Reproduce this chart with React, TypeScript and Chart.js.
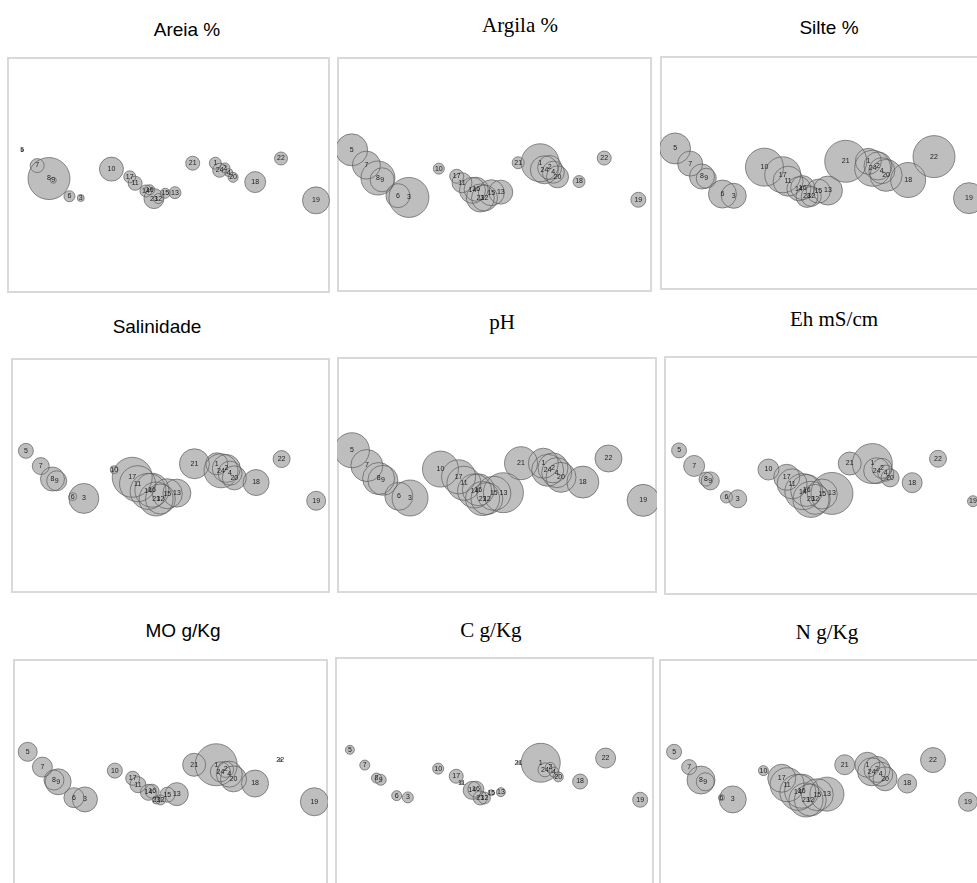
import React, { useEffect, useRef } from "react";
import { Chart, registerables } from "chart.js";

Chart.register(...registerables);

// Sites (ordination scores shared by every panel)
const sites = ["1","2","3","4","5","6","7","8","9","10","11","12","13","14","15","16","17","18","19","20","21","22","23","24"];
const siteX = [0.87, 1.05, -1.63, 1.12, -2.72, -1.84, -2.44, -2.22, -2.14, -1.06, -0.62, -0.19, 0.12, -0.42, -0.06, -0.35, -0.72, 1.61, 2.74, 1.2, 0.45, 2.09, -0.27, 0.95];
const siteY = [0.2, 0.12, -0.39, 0.04, 0.42, -0.36, 0.16, -0.06, -0.09, 0.1, -0.14, -0.4, -0.3, -0.27, -0.31, -0.25, -0.03, -0.12, -0.43, -0.04, 0.2, 0.28, -0.4, 0.08];

// Bubble sizes per variable (site 1..24)
const areiaSize = [6, 5, 3.5, 4, 1.2, 5.5, 7, 21, 3, 12, 7, 5, 6, 6, 5, 5, 6, 10.5, 13.5, 5, 7, 6.5, 10, 7];
const argilaSize = [19, 12, 20, 11, 16, 12, 14, 17, 12, 5.5, 10, 13, 12, 13, 13, 12, 7, 6, 7.5, 11, 6, 7, 14, 14];
const silteSize = [13, 14, 12.5, 13, 15.5, 14, 12.5, 12.5, 10, 19, 15, 10, 14.5, 12, 12, 12, 18, 17.5, 15.5, 16, 21, 21, 11, 18];
const salinidadeSize = [11, 14, 15, 12, 7.5, 4, 8.5, 12, 10, 4, 18, 15, 14, 18, 15, 17, 20, 13, 9.5, 12, 15, 8.5, 17, 17];
const phSize = [15, 15, 18, 15, 17.5, 14, 16, 16, 15, 18, 17, 16, 20, 17, 17, 16, 17, 16, 16, 15, 16.5, 13.5, 17, 16];
const ehSize = [20, 10, 9, 8, 7.5, 6, 10.5, 7, 9, 10.5, 15, 15, 21, 18, 15, 16, 13, 10, 5.5, 9, 11.5, 8.5, 18, 13];
const moSize = [21, 8, 12.5, 13, 9.5, 10, 10, 10, 13, 7.5, 8, 5, 11.5, 8, 7.5, 7, 7, 13.5, 14, 13, 11.5, 1.5, 4, 10];
const cSize = [19.5, 5, 5.5, 5, 4.5, 5, 5, 5, 5.5, 5.5, 1.5, 6, 4.5, 9, 3, 8, 7, 7.5, 7.5, 5, 1.5, 10, 7, 7];
const nSize = [12.5, 13, 13.5, 12, 7.5, 3, 7.5, 14, 9, 5, 17, 16, 17, 18, 16, 17, 14, 9.5, 9.5, 12, 10, 12.5, 17, 14];

const panelTitles = ["Areia %", "Argila %", "Silte %", "Salinidade", "pH", "Eh mS/cm", "MO g/Kg", "C g/Kg", "N g/Kg"];
const panelSizes = [areiaSize, argilaSize, silteSize, salinidadeSize, phSize, ehSize, moSize, cSize, nSize];

// Layout (page pixels)
const titleSerif = [false, true, false, false, true, true, false, true, true];
const boxes = [
  [7, 57, 323, 236], [337, 57, 315, 235], [660, 56, 323, 234],
  [11, 358, 319, 235], [337, 357, 320, 236], [664, 356, 323, 239],
  [13, 659, 315, 235], [335, 657, 319, 235], [659, 659, 323, 235],
];
const titlePos = [
  [187, 29], [520, 25], [829, 27],
  [157, 326], [502, 322], [834, 319],
  [183, 630], [491, 630], [827, 632],
];

const boxPlugin = {
  id: "boxBorder",
  beforeDraw(chart: any) {
    const { ctx, chartArea: a } = chart;
    ctx.save();
    ctx.strokeStyle = "#d9d9d9";
    ctx.lineWidth = 2;
    ctx.strokeRect(a.left + 1, a.top + 1, a.width - 2, a.height - 2);
    ctx.restore();
  },
};

const labelPlugin = {
  id: "siteLabels",
  afterDatasetsDraw(chart: any) {
    const { ctx } = chart;
    const meta = chart.getDatasetMeta(0);
    ctx.save();
    ctx.font = "7px 'Liberation Sans', Arial, sans-serif";
    ctx.fillStyle = "#222";
    ctx.textAlign = "center";
    ctx.textBaseline = "middle";
    meta.data.forEach((el: any, i: number) => {
      ctx.fillText(sites[i], el.x, el.y);
    });
    ctx.restore();
  },
};

function Panel({ idx }: { idx: number }) {
  const ref = useRef<HTMLCanvasElement>(null);
  const [left, top, w, h] = boxes[idx];
  useEffect(() => {
    if (!ref.current) return;
    const sizes = panelSizes[idx];
    const pts = siteX.map((x, i) => ({ x, y: siteY[i], r: sizes[i] }));
    const chart = new Chart(ref.current, {
      type: "bubble",
      data: {
        datasets: [
          // outlines (drawn on top: dataset 0 is painted last)
          { data: pts, backgroundColor: "rgba(0,0,0,0)", borderColor: "rgba(90,90,90,0.75)", borderWidth: 0.9, clip: false } as any,
          // fills
          { data: pts, backgroundColor: "#bebebe", borderWidth: 0, clip: false } as any,
        ],
      },
      options: {
        responsive: false,
        animation: false,
        events: [],
        layout: { padding: 0, autoPadding: false },
        plugins: { legend: { display: false }, tooltip: { enabled: false } },
        scales: {
          x: { type: "linear", min: -3, max: 3, display: false },
          y: { type: "linear", min: -2, max: 2, display: false },
        },
      } as any,
      plugins: [boxPlugin, labelPlugin],
    });
    return () => chart.destroy();
  }, [idx]);
  const [cx, cy] = titlePos[idx];
  return (
    <>
      <div
        style={{
          position: "absolute",
          left: cx,
          top: cy,
          transform: "translate(-50%, -50%)",
          whiteSpace: "nowrap",
          lineHeight: 1,
          fontSize: titleSerif[idx] ? 21 : 19,
          fontFamily: titleSerif[idx] ? "'Liberation Serif', 'DejaVu Serif', serif" : "'Liberation Sans', Arial, sans-serif",
          color: "#000",
        }}
      >
        {panelTitles[idx]}
      </div>
      <canvas
        ref={ref}
        width={w}
        height={h}
        style={{ position: "absolute", left, top, width: w, height: h }}
      />
    </>
  );
}

export default function App() {
  return (
    <div
      style={{
        position: "absolute",
        left: 0,
        top: 0,
        width: 977,
        height: 883,
        overflow: "hidden",
        background: "#fff",
      }}
    >
      {panelTitles.map((_, i) => (
        <Panel key={i} idx={i} />
      ))}
    </div>
  );
}
